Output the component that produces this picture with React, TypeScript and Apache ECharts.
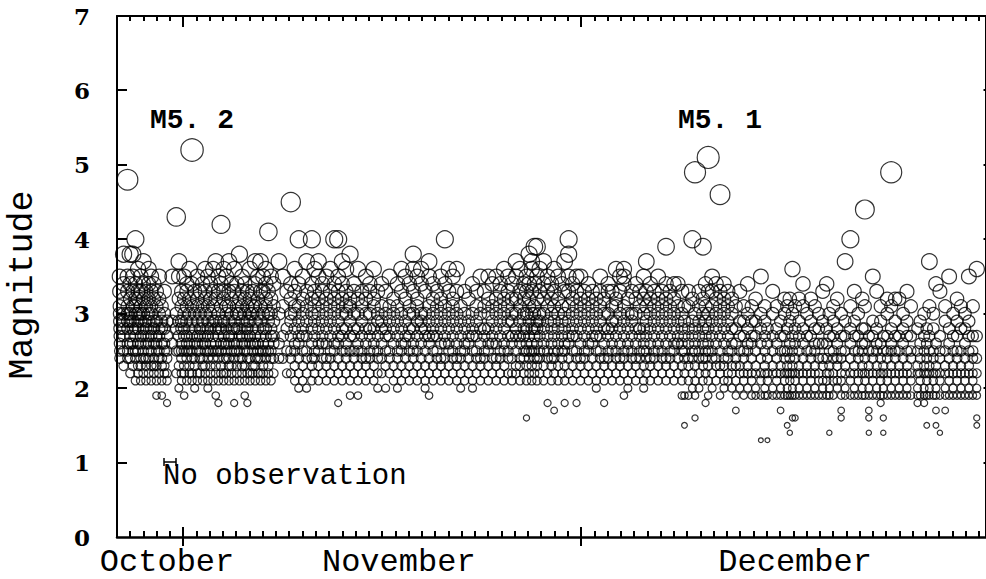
import { useEffect, useRef } from "react";
import * as echarts from "echarts";

// x = days counted from 27 October (5 = 1 Nov, 35 = 1 Dec, 66 = 1 Jan)
const dayMin = 0;
const dayMax = 66;
const monthStarts = [5, 35];
const monthNames = ["October", "November", "December"];
const monthLabelDays = [3.8, 21.4, 51.5];
const magMin = 0;
const magMax = 7;
const magTicks = [0, 1, 2, 3, 4, 5, 6, 7];

// each row: [day, magnitudes x10 ...]
const octoberEvents = [
  [0.2, 24, 25, 26, 27, 28, 29, 30, 31, 33, 35],
  [0.5, 23, 25, 27, 28, 29, 30, 32, 34, 38],
  [0.8, 24, 25, 26, 28, 29, 30, 31, 33, 35, 48],
  [1.0, 22, 24, 26, 27, 29, 30, 32, 34, 38],
  [1.2, 23, 25, 26, 28, 29, 31, 33, 35, 38],
  [1.4, 21, 24, 25, 27, 28, 30, 31, 32, 34, 40],
  [1.6, 22, 23, 25, 26, 28, 29, 30, 32, 33, 36],
  [1.8, 21, 23, 24, 26, 27, 29, 30, 31, 33, 35],
  [2.0, 22, 24, 25, 27, 28, 30, 32, 34, 37],
  [2.2, 21, 23, 24, 26, 28, 29, 31, 33],
  [2.4, 22, 24, 25, 26, 27, 29, 30, 32, 34, 36],
  [2.6, 21, 23, 25, 27, 28, 30, 31, 33, 35],
  [2.8, 22, 23, 24, 26, 28, 29, 32, 34],
  [3.0, 19, 21, 23, 25, 26, 27, 29, 31, 33],
  [3.2, 22, 24, 25, 27, 28, 30, 32, 35],
  [3.4, 19, 21, 23, 24, 26, 28, 29, 31],
  [3.6, 22, 23, 25, 26, 28, 30, 33],
  [3.8, 18, 21, 22, 24, 25, 27, 29],
  [4.2, 26, 29, 35],
  [4.5, 22, 25, 28, 30, 43],
  [4.7, 20, 23, 25, 27, 29, 32, 35, 37],
  [4.9, 21, 22, 24, 25, 26, 28, 29, 31, 33],
];

const novemberEvents = [
  [5.1, 19, 22, 23, 25, 27, 28, 30, 32, 35],
  [5.3, 21, 24, 25, 26, 27, 29, 31, 33, 34],
  [5.5, 22, 23, 25, 26, 28, 30, 32, 36],
  [5.7, 21, 22, 24, 25, 27, 29, 31, 34, 52],
  [5.9, 20, 23, 24, 26, 28, 30, 33],
  [6.1, 21, 22, 25, 26, 27, 29, 31, 32, 35],
  [6.3, 22, 24, 25, 27, 28, 30, 33],
  [6.5, 21, 23, 24, 26, 28, 29, 31, 34],
  [6.7, 22, 23, 25, 26, 27, 30, 32, 33, 36],
  [6.9, 20, 21, 24, 25, 27, 28, 29, 31, 35],
  [7.1, 22, 23, 25, 26, 28, 30, 32, 34],
  [7.3, 21, 24, 25, 27, 29, 31, 33, 36],
  [7.5, 19, 22, 23, 25, 26, 28, 29, 32, 37],
  [7.7, 18, 21, 24, 25, 27, 28, 30, 33, 35],
  [7.9, 22, 23, 25, 26, 28, 29, 31, 34, 42],
  [8.1, 21, 22, 24, 26, 27, 29, 32, 33, 36],
  [8.3, 22, 24, 25, 26, 28, 30, 31, 35],
  [8.5, 21, 23, 24, 26, 27, 29, 31, 33, 37],
  [8.7, 22, 23, 25, 27, 28, 30, 32, 34],
  [8.9, 18, 21, 24, 25, 26, 28, 29, 33, 36],
  [9.1, 22, 23, 25, 26, 28, 30, 31, 34],
  [9.3, 21, 24, 25, 27, 28, 30, 32, 38],
  [9.5, 22, 23, 24, 26, 27, 29, 31, 33, 35],
  [9.7, 19, 21, 23, 25, 26, 28, 30, 32, 34],
  [9.9, 18, 22, 24, 25, 27, 28, 29, 31, 33],
  [10.1, 21, 22, 24, 26, 27, 29, 30, 32, 36],
  [10.3, 22, 23, 25, 26, 28, 30, 31, 33],
  [10.5, 21, 23, 24, 26, 27, 29, 31, 34, 37],
  [10.7, 22, 24, 25, 26, 28, 30, 32, 35],
  [10.9, 21, 22, 24, 25, 27, 29, 31, 33, 37],
  [11.1, 22, 23, 25, 26, 28, 30, 33, 35],
  [11.3, 21, 24, 25, 27, 28, 31, 32, 34, 36],
  [11.5, 22, 23, 25, 26, 29, 30, 33, 41],
  [11.7, 21, 24, 25, 27, 28, 30, 32, 35],
  [11.9, 22, 24, 26, 27, 29, 31, 34],
  [12.3, 24, 26, 30, 37],
  [12.6, 24, 27, 31, 35],
  [12.9, 22, 25, 28, 33],
  [13.2, 22, 24, 25, 27, 29, 30, 32, 34, 45],
  [13.5, 21, 23, 25, 26, 28, 30, 31, 33, 36],
  [13.8, 20, 22, 24, 26, 27, 29, 31, 34, 40],
  [14.1, 21, 23, 25, 27, 28, 30, 32, 35],
  [14.4, 20, 22, 24, 25, 27, 29, 31, 33, 37],
  [14.8, 21, 23, 24, 26, 28, 30, 32, 34, 40],
  [15.0, 22, 24, 25, 27, 29, 31, 33, 36],
  [15.3, 21, 23, 25, 26, 28, 30, 32, 35, 37],
  [15.6, 22, 24, 26, 27, 29, 31, 33, 34],
  [15.9, 21, 23, 24, 26, 28, 30, 32, 35],
  [16.2, 22, 24, 25, 27, 29, 31, 33, 36],
  [16.5, 21, 23, 25, 26, 28, 30, 32, 34, 40],
  [16.8, 18, 22, 24, 26, 27, 29, 31, 33, 35, 40],
  [17.1, 21, 23, 25, 27, 28, 30, 32, 34, 37],
  [17.4, 22, 24, 25, 26, 28, 30, 31, 33, 36],
  [17.7, 19, 21, 23, 25, 27, 29, 31, 32, 38],
  [18.0, 22, 24, 25, 27, 28, 30, 33, 34],
  [18.3, 19, 21, 23, 25, 26, 28, 30, 32, 36],
  [18.6, 22, 24, 25, 27, 29, 31, 33],
  [18.9, 21, 23, 24, 26, 28, 30, 32, 35],
  [19.2, 22, 24, 25, 27, 28, 30, 33, 34],
  [19.5, 21, 23, 25, 26, 28, 31, 32, 36],
  [19.8, 20, 22, 24, 25, 27, 29, 30, 33],
  [20.1, 22, 24, 26, 28, 29, 31, 34],
  [20.4, 20, 23, 25, 27, 28, 30, 33],
  [20.7, 22, 24, 25, 27, 29, 31, 35],
  [21.0, 21, 23, 26, 28, 30, 32],
  [21.3, 20, 22, 24, 25, 27, 29, 31, 34],
  [21.6, 21, 23, 25, 26, 28, 30, 33, 36],
  [21.9, 22, 24, 26, 27, 29, 32, 35],
  [22.2, 21, 23, 25, 27, 28, 30, 31, 34],
  [22.5, 22, 24, 25, 26, 28, 30, 33, 36, 38],
  [22.8, 21, 23, 25, 27, 29, 31, 32, 35],
  [23.1, 22, 24, 26, 28, 29, 30, 34, 36],
  [23.4, 20, 21, 23, 25, 27, 28, 30, 33],
  [23.7, 19, 22, 24, 26, 27, 29, 31, 35, 37],
  [24.0, 21, 23, 25, 27, 28, 30, 32, 34],
  [24.3, 22, 24, 25, 27, 29, 31, 33],
  [24.6, 21, 23, 24, 26, 28, 30, 32, 35],
  [24.9, 22, 24, 26, 27, 29, 31, 34, 40],
  [25.2, 21, 23, 25, 26, 28, 30, 33, 36],
  [25.5, 22, 24, 25, 27, 29, 31, 32, 35],
  [25.8, 21, 23, 24, 26, 28, 30, 33, 36],
  [26.1, 20, 22, 24, 25, 27, 29, 31],
  [26.4, 21, 23, 25, 26, 28, 30, 33],
  [26.7, 22, 24, 26, 27, 29, 32],
  [27.0, 20, 21, 23, 25, 27, 28, 30, 34],
  [27.3, 22, 24, 25, 27, 29, 31, 33],
  [27.6, 21, 23, 24, 26, 28, 30, 35],
  [27.9, 22, 24, 25, 27, 28, 31, 33],
  [28.2, 21, 23, 25, 26, 28, 30, 32, 35],
  [28.5, 22, 24, 26, 27, 29, 31, 34],
  [28.8, 21, 23, 24, 26, 28, 30, 32, 35],
  [29.1, 22, 24, 25, 27, 29, 31, 33, 34],
  [29.4, 21, 23, 25, 26, 28, 30, 32, 36],
  [29.7, 22, 24, 25, 27, 29, 31, 33, 35],
  [30.0, 21, 22, 24, 26, 27, 29, 30, 32, 34],
  [30.3, 22, 23, 25, 27, 28, 30, 32, 35, 37],
  [30.6, 21, 23, 24, 26, 27, 29, 31, 33, 36],
  [30.9, 22, 24, 25, 27, 28, 30, 32, 34],
  [31.1, 16, 21, 23, 25, 26, 28, 30, 33, 35],
  [31.3, 22, 24, 25, 27, 29, 31, 32, 34, 38],
  [31.5, 21, 23, 25, 26, 28, 30, 33, 36, 37],
  [31.7, 22, 24, 25, 27, 28, 30, 31, 34, 39],
  [31.9, 21, 23, 24, 26, 28, 29, 32, 35, 39],
  [32.1, 22, 24, 25, 27, 29, 30, 33, 36],
  [32.4, 21, 23, 25, 26, 28, 30, 32, 34, 37],
  [32.7, 18, 22, 24, 25, 27, 29, 31, 33, 35],
  [33.0, 21, 23, 24, 26, 28, 30, 32, 34],
  [33.2, 17, 22, 24, 25, 27, 29, 31, 33, 36],
  [33.5, 21, 23, 25, 26, 28, 30, 32, 35],
  [33.8, 22, 24, 25, 27, 29, 31, 34],
  [34.0, 18, 21, 23, 25, 26, 28, 30, 33, 37],
  [34.3, 22, 24, 26, 27, 29, 31, 33, 35, 38, 40],
  [34.6, 21, 23, 25, 27, 28, 30, 32, 34],
  [34.9, 18, 22, 24, 25, 27, 29, 31, 33, 35],
];

const decemberEvents = [
  [35.2, 21, 23, 24, 26, 28, 30, 32, 35],
  [35.5, 22, 24, 25, 27, 29, 31, 33],
  [35.8, 21, 23, 25, 26, 28, 30, 32, 34],
  [36.1, 22, 24, 26, 27, 29, 31, 33],
  [36.4, 20, 21, 23, 25, 27, 28, 30, 32],
  [36.7, 22, 24, 25, 27, 29, 31, 33, 35],
  [37.0, 18, 21, 23, 24, 26, 28, 30, 32],
  [37.3, 22, 24, 25, 27, 28, 30, 33, 34],
  [37.6, 21, 23, 25, 26, 28, 29, 31, 33],
  [37.9, 22, 24, 25, 27, 29, 31, 32, 36],
  [38.2, 21, 23, 24, 26, 28, 30, 33, 35],
  [38.5, 19, 22, 24, 25, 27, 29, 31, 34, 35, 36],
  [38.8, 20, 21, 23, 25, 26, 28, 30, 32],
  [39.1, 22, 24, 25, 27, 29, 30, 33],
  [39.4, 21, 23, 24, 26, 28, 30, 32, 34],
  [39.7, 22, 24, 25, 27, 28, 31, 33],
  [40.0, 20, 21, 23, 25, 26, 28, 30, 32, 35],
  [40.2, 22, 24, 25, 27, 29, 31, 33, 37],
  [40.5, 21, 23, 24, 26, 28, 30, 32, 34],
  [40.8, 22, 24, 25, 27, 29, 31, 33],
  [41.1, 21, 23, 25, 26, 28, 30, 32, 35],
  [41.4, 22, 24, 25, 27, 29, 31, 33],
  [41.7, 21, 23, 24, 26, 28, 30, 32, 34, 39],
  [42.0, 22, 24, 25, 27, 29, 31, 33],
  [42.3, 21, 23, 25, 26, 28, 30, 32, 34],
  [42.6, 22, 24, 26, 27, 29, 31, 34],
  [42.9, 19, 21, 23, 25, 26, 28, 30, 33],
  [43.1, 15, 19, 22, 24, 25, 27, 29, 31],
  [43.4, 19, 21, 23, 24, 26, 28, 31, 33],
  [43.7, 20, 22, 24, 25, 27, 29, 32, 40],
  [43.9, 16, 19, 21, 23, 25, 26, 28, 30, 49],
  [44.2, 20, 22, 24, 25, 27, 29, 31, 33],
  [44.5, 21, 23, 24, 26, 28, 30, 32, 39],
  [44.7, 18, 22, 24, 25, 27, 29, 31, 34],
  [44.9, 19, 21, 23, 25, 26, 28, 30, 33, 51],
  [45.2, 20, 22, 24, 25, 27, 29, 31, 33, 35],
  [45.5, 21, 23, 24, 26, 28, 30, 32, 34],
  [45.8, 19, 22, 23, 25, 27, 29, 31, 33, 46],
  [46.1, 20, 21, 23, 24, 26, 28, 30, 32, 34],
  [46.4, 21, 22, 24, 25, 27, 29, 31, 33],
  [46.7, 20, 22, 23, 25, 26, 28, 30, 32],
  [47.0, 17, 19, 21, 23, 24, 26, 28, 31],
  [47.3, 20, 22, 23, 25, 27, 29, 33],
  [47.6, 19, 21, 22, 24, 25, 27, 29, 31],
  [47.9, 20, 22, 23, 25, 26, 28, 30, 34],
  [48.2, 19, 21, 22, 24, 26, 27, 29, 31],
  [48.5, 19, 20, 22, 23, 25, 27, 29, 32],
  [48.9, 13, 19, 21, 22, 24, 26, 28, 30, 35],
  [49.2, 19, 20, 22, 23, 25, 27, 29, 31],
  [49.4, 13, 19, 21, 22, 24, 26, 28],
  [49.8, 19, 20, 22, 23, 25, 27, 30, 33],
  [50.1, 19, 21, 22, 24, 26, 28, 31],
  [50.4, 17, 19, 20, 22, 23, 25, 27, 29],
  [50.7, 19, 21, 22, 24, 25, 27, 30, 32],
  [50.9, 15, 19, 20, 22, 23, 25, 28, 31],
  [51.1, 14, 19, 21, 22, 24, 26, 29, 32],
  [51.3, 16, 19, 20, 22, 23, 25, 27, 30, 36],
  [51.5, 16, 19, 21, 22, 24, 26, 28, 31],
  [51.8, 19, 20, 22, 23, 25, 27, 29, 32],
  [52.1, 19, 21, 22, 24, 26, 28, 31, 34],
  [52.4, 19, 20, 22, 23, 25, 27, 30],
  [52.7, 19, 21, 22, 24, 25, 27, 29, 32],
  [53.0, 19, 20, 22, 23, 25, 26, 28, 31],
  [53.3, 19, 21, 22, 24, 26, 28, 30],
  [53.6, 19, 20, 21, 23, 24, 26, 29, 33],
  [53.9, 19, 21, 22, 24, 26, 28, 34],
  [54.1, 14, 19, 20, 22, 23, 25, 27, 30],
  [54.4, 19, 21, 22, 24, 25, 27, 29, 31],
  [54.7, 20, 21, 23, 24, 26, 28, 32],
  [55.0, 16, 17, 19, 21, 22, 24, 25, 27, 30],
  [55.3, 19, 20, 22, 23, 25, 27, 29, 37],
  [55.7, 19, 21, 22, 24, 26, 28, 31, 40],
  [56.0, 19, 20, 22, 23, 25, 27, 29, 33],
  [56.3, 19, 21, 22, 24, 25, 27, 30],
  [56.6, 19, 20, 22, 23, 25, 26, 28, 32],
  [56.8, 19, 21, 22, 24, 26, 28, 31, 44],
  [57.1, 14, 16, 17, 19, 20, 22, 23, 25, 27],
  [57.4, 19, 21, 22, 24, 25, 27, 29, 35],
  [57.7, 19, 20, 22, 23, 25, 26, 28, 33],
  [58.0, 18, 19, 21, 22, 24, 26, 29, 31],
  [58.2, 14, 16, 19, 20, 22, 23, 25, 27],
  [58.5, 19, 21, 22, 24, 25, 27, 30, 32],
  [58.8, 19, 20, 22, 23, 25, 26, 28, 31, 49],
  [59.1, 19, 21, 22, 24, 25, 27, 29, 32],
  [59.4, 19, 20, 22, 23, 25, 27, 32],
  [59.7, 19, 21, 22, 24, 26, 28, 30],
  [60.0, 19, 20, 22, 23, 25, 27, 29, 33],
  [60.3, 19, 21, 22, 24, 25, 27, 31],
  [60.8, 18, 19, 20, 22, 23, 25, 28],
  [61.0, 19, 21, 22, 24, 26, 29],
  [61.3, 18, 19, 20, 22, 23, 25, 27, 30],
  [61.5, 15, 19, 21, 22, 24, 26, 28],
  [61.7, 19, 20, 22, 23, 25, 27, 31, 37],
  [62.0, 19, 21, 22, 24, 25, 28, 30],
  [62.2, 15, 17, 19, 20, 22, 23, 26, 34],
  [62.5, 14, 19, 21, 22, 24, 25, 27, 33],
  [62.9, 17, 19, 20, 22, 23, 25, 29, 31],
  [63.2, 19, 21, 22, 24, 26, 28, 35],
  [63.5, 19, 20, 22, 23, 25, 27, 30],
  [63.8, 19, 21, 22, 24, 25, 27, 29, 32],
  [64.1, 19, 20, 22, 23, 25, 28, 31],
  [64.4, 19, 21, 22, 24, 26, 28, 30],
  [64.7, 19, 20, 22, 23, 25, 27, 29, 35],
  [65.0, 19, 21, 22, 24, 25, 27, 31],
  [65.3, 15, 16, 19, 20, 22, 24, 27, 36],
];

const toPoints = (rows: number[][]) =>
  rows.flatMap(([day, ...mags]) => mags.map((m) => [day, m / 10]));

const MONO = "'Liberation Mono', 'DejaVu Sans Mono', monospace";
const SERIF = "'DejaVu Serif', 'Liberation Serif', serif";

// plot frame geometry (pixels)
const GRID_LEFT = 117;
const GRID_TOP = 16;
const GRID_W = 875.5;
const GRID_H = 521;

const tickLine = (x1: number, y1: number, x2: number, y2: number, w: number) => ({
  type: "line",
  z: 50,
  silent: true,
  shape: { x1, y1, x2, y2 },
  style: { stroke: "#000", lineWidth: w },
});

export default function App() {
  const ref = useRef<HTMLDivElement>(null);

  useEffect(() => {
    if (!ref.current) return;
    const chart = echarts.init(ref.current, undefined, { renderer: "svg" });
    const points = [
      ...toPoints(octoberEvents),
      ...toPoints(novemberEvents),
      ...toPoints(decemberEvents),
    ];

    // frame ticks along the linear day / magnitude scales of the frame
    const xAt = (d: number) => Math.round(GRID_LEFT + ((d - dayMin) / (dayMax - dayMin)) * GRID_W);
    const yAt = (m: number) => Math.round(GRID_TOP + GRID_H - ((m - magMin) / (magMax - magMin)) * GRID_H);
    const bottom = GRID_TOP + GRID_H;
    const top = GRID_TOP;
    const left = GRID_LEFT;
    const right = GRID_LEFT + GRID_W;
    const ticks: any[] = [];
    for (let d = dayMin + 1; d < dayMax; d += 1) {
      const x = xAt(d);
      const major = monthStarts.includes(d);
      ticks.push(tickLine(x, bottom - (major ? 10 : 6), x, bottom + (major ? 9 : 0), 2));
      ticks.push(tickLine(x, top, x, top + (major ? 11 : 5), 2));
    }
    magTicks.slice(1, -1).forEach((m) => {
      const y = yAt(m);
      ticks.push(tickLine(left, y, left + 10, y, 2));
      ticks.push(tickLine(right - 9, y, right, y, 2));
    });

    chart.setOption({
      animation: false,
      backgroundColor: "#fff",
      grid: { left: GRID_LEFT, top: GRID_TOP, width: GRID_W, height: GRID_H },
      xAxis: [
        {
          type: "value",
          position: "bottom",
          min: dayMin,
          max: dayMax,
          interval: 1,
          splitLine: { show: false },
          axisLine: { show: true, onZero: false, lineStyle: { color: "#000", width: 2.5 } },
          axisTick: { show: false },
          axisLabel: {
            show: true,
            customValues: monthLabelDays,
            formatter: (v: number) => monthNames[monthLabelDays.indexOf(v)] ?? "",
            fontFamily: MONO,
            fontSize: 32,
            lineHeight: 26,
            color: "#000",
            margin: 12,
          },
        },
        {
          type: "value",
          position: "top",
          min: dayMin,
          max: dayMax,
          interval: 1,
          splitLine: { show: false },
          axisLine: { show: true, onZero: false, lineStyle: { color: "#000", width: 2 } },
          axisTick: { show: false },
          axisLabel: { show: false },
        },
      ],
      yAxis: [
        {
          type: "value",
          position: "left",
          min: magMin,
          max: magMax,
          interval: 1,
          splitLine: { show: false },
          axisLine: { show: true, onZero: false, lineStyle: { color: "#000", width: 2 } },
          axisTick: { show: false },
          axisLabel: {
            fontFamily: SERIF,
            fontWeight: "bold",
            fontSize: 23,
            color: "#000",
            margin: 27,
            padding: [6, 0, 0, 0],
          },
        },
        {
          type: "value",
          position: "right",
          min: magMin,
          max: magMax,
          interval: 1,
          splitLine: { show: false },
          axisLine: { show: true, onZero: false, lineStyle: { color: "#000", width: 2 } },
          axisTick: { show: false },
          axisLabel: { show: false },
        },
      ],
      graphic: [
        {
          type: "text",
          x: 23,
          y: 285,
          rotation: Math.PI / 2,
          style: { text: "Magnitude", font: `35px ${MONO}`, fill: "#000", align: "center", verticalAlign: "middle" },
        },
        {
          type: "text",
          x: 150,
          y: 120,
          style: { text: "M5. 2", font: `bold 28px ${MONO}`, fill: "#000", align: "left", verticalAlign: "middle" },
        },
        {
          type: "text",
          x: 678,
          y: 120,
          style: { text: "M5. 1", font: `bold 28px ${MONO}`, fill: "#000", align: "left", verticalAlign: "middle" },
        },
        {
          type: "text",
          x: 163,
          y: 476,
          style: { text: "No observation", font: `29px ${MONO}`, fill: "#000", align: "left", verticalAlign: "middle" },
        },
        tickLine(164, 462, 176, 462, 1.5),
        tickLine(164, 458, 164, 466, 1.5),
        tickLine(176, 458, 176, 466, 1.5),
        ...ticks,
      ],
      series: [
        {
          type: "scatter",
          xAxisIndex: 0,
          yAxisIndex: 0,
          data: points,
          symbol: "circle",
          symbolSize: (v: number[]) => v[1] * 4.5 - 1,
          itemStyle: { color: "rgba(0,0,0,0)", borderColor: "#000", borderWidth: 1.2 },
          emphasis: { disabled: true },
          silent: true,
        },
      ],
    });
    return () => chart.dispose();
  }, []);

  return (
    <div
      ref={ref}
      style={{ position: "fixed", left: 0, top: 0, width: 986, height: 579, background: "#fff" }}
    />
  );
}
